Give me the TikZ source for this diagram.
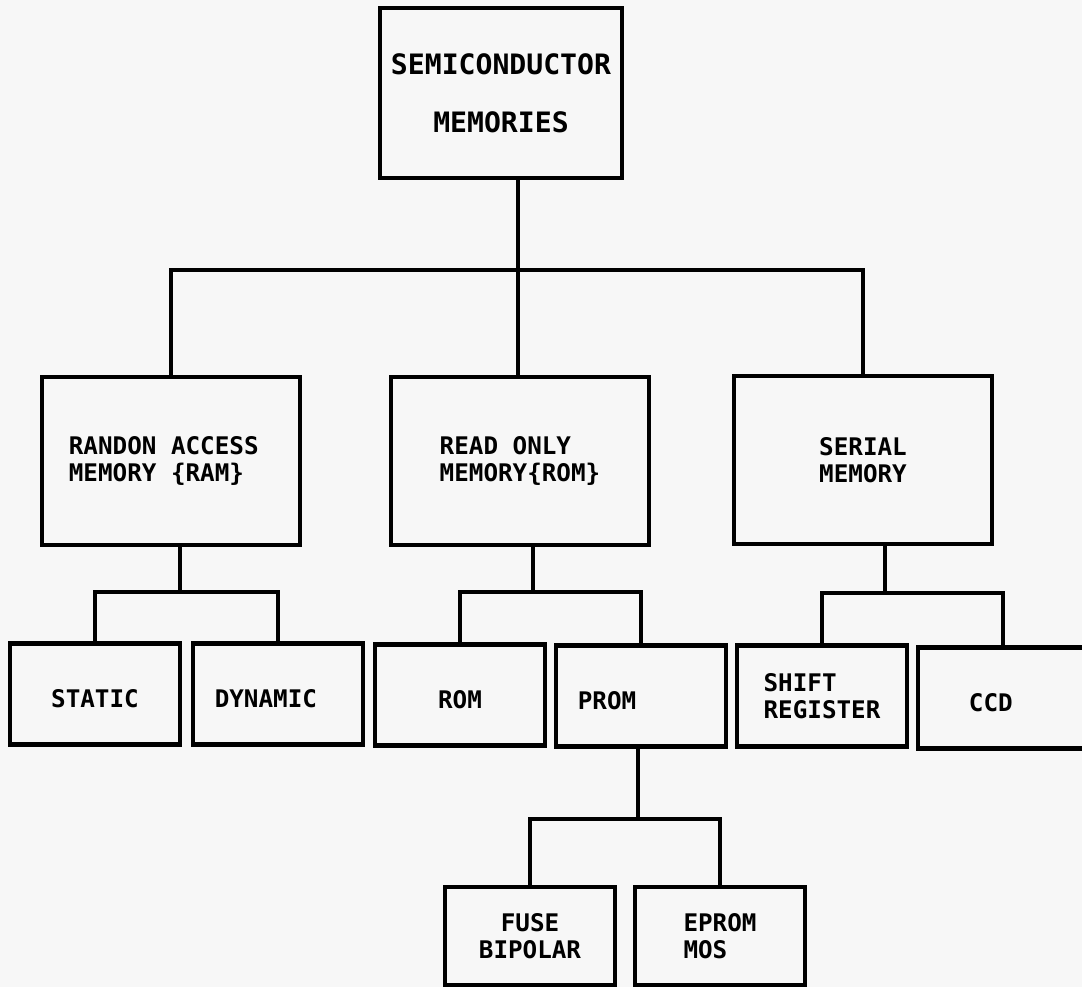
\documentclass[tikz,border=0pt]{standalone}
\usepackage{fontspec}
\setmonofont{DejaVu Sans Mono}

\begin{document}
\begin{tikzpicture}[x=0.02cm, y=-0.02cm, line width=2pt, every node/.style={font=\ttfamily\bfseries\fontsize{13.8}{15.3}\selectfont}, big/.style={draw, line width=2.3pt, minimum width=5.16cm, minimum height=3.36cm, align=left}, small/.style={draw, line width=2.3pt, minimum width=3.4cm, minimum height=2.02cm, align=center}]
	\useasboundingbox (0,0) rectangle (1082,987);
	\clip (0,0) rectangle (1082,987);
	\fill[black!3] (0,0) rectangle (1082,987);
	\node[draw, line width=2.3pt, minimum width=4.84cm, minimum height=3.4cm, align=center, font=\ttfamily\bfseries\fontsize{16}{33}\selectfont] (top) at (501,93) {SEMICONDUCTOR\\MEMORIES};
	\node[big] (ram) at (171,461) {RANDON ACCESS\\MEMORY \{RAM\}\hspace*{1.2em}};
	\node[big] (rom) at (520,461) {READ ONLY\\MEMORY\{ROM\}};
	\node[big] (ser) at (863,460) {SERIAL\\MEMORY};
	\node[small] (sta) at (95,694) {\mbox{}\\STATIC};
	\node[small] (dyn) at (278,694) {\mbox{}\\DYNAMIC\hspace*{1em}};
	\node[small] (rmb) at (460,695) {\mbox{}\\ROM};
	\node[small] (prm) at (641,696) {\mbox{}\\PROM\hspace*{2.8em}};
	\node[small, align=left] (shf) at (822,696) {SHIFT\\REGISTER};
	\node[small] (ccd) at (1003,698) {\mbox{}\\CCD\hspace*{1em}};
	\node[small, minimum height=1.96cm] (fus) at (530,936) {FUSE\\BIPOLAR};
	\node[small, minimum height=1.96cm, align=left] (epr) at (720,936) {EPROM\\MOS};
	% top level bus
	\coordinate (bus) at (518,270);
	\draw (top.south -| bus) -- (bus) -- (bus |- rom.north);
	\draw (ram.north) |- (bus) -| (ser.north);
	% lower branches
	\foreach \p/\a/\b/\jx/\jy in {ram/sta/dyn/180/592, rom/rmb/prm/533/592, ser/shf/ccd/885/593, prm/fus/epr/638/819} {
		\coordinate (j) at (\jx,\jy);
		\draw (\p.south -| j) -- (j);
		\draw (\a.north) |- (j) -| (\b.north);
	}
\end{tikzpicture}
\end{document}
